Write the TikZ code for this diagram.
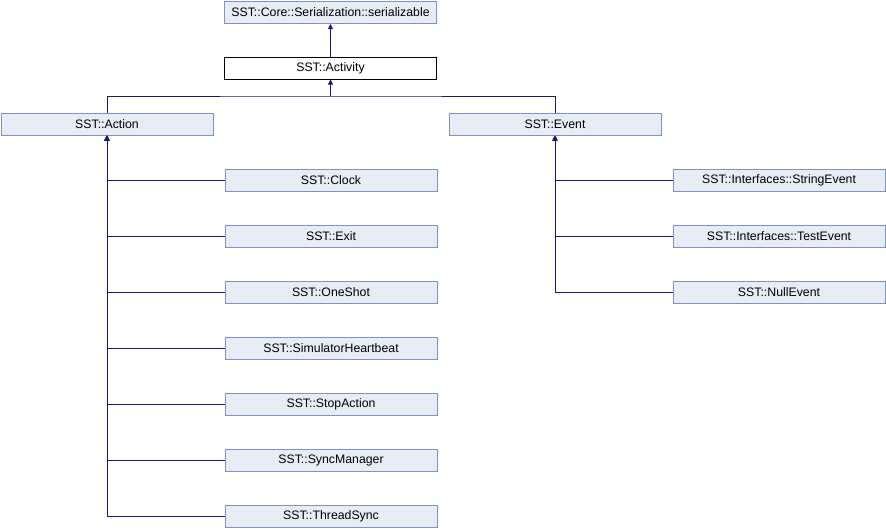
\documentclass[tikz,border=0pt]{standalone}
\usepackage{fontspec}
\setmainfont{Liberation Sans}
\usetikzlibrary{arrows.meta}
\definecolor{boxfill}{HTML}{E8ECF5}
\definecolor{boxline}{HTML}{7B93C9}
\definecolor{edgecol}{HTML}{191970}
\begin{document}
\begin{tikzpicture}[x=1pt,y=-1pt,
  cls/.style={draw=boxline,fill=boxfill,line width=1pt,minimum width=212pt,minimum height=22pt,inner sep=0pt,font=\fontsize{12.3}{14}\selectfont},
  cur/.style={cls,draw=black,fill=white},
  edge/.style={draw=edgecol,line width=1pt},
  inh/.style={edge,-{Triangle[width=5pt,length=5pt]}}]
\useasboundingbox (0,0) rectangle (886,528);
\node[cls] (ser) at (330.5,12.5) {SST::Core::Serialization::serializable};
\node[cur] (act) at (330.5,68) {SST::Activity};
\node[cls] (action) at (107,124) {SST::Action};
\node[cls] (event) at (555,124) {SST::Event};
\node[cls] (clock) at (331,180) {SST::Clock};
\node[cls] (exit) at (331,236) {SST::Exit};
\node[cls] (oneshot) at (331,292) {SST::OneShot};
\node[cls] (simhb) at (331,348) {SST::SimulatorHeartbeat};
\node[cls] (stop) at (331,404) {SST::StopAction};
\node[cls] (syncm) at (331,460) {SST::SyncManager};
\node[cls] (thread) at (331,516) {SST::ThreadSync};
\node[cls] (strev) at (779,180) {SST::Interfaces::StringEvent};
\node[cls] (testev) at (779,236) {SST::Interfaces::TestEvent};
\node[cls] (nullev) at (779,292) {SST::NullEvent};
\coordinate (bar) at (330.5,96);
\draw[inh] (act.north) -- (ser.south);
\draw[edge] (action.north) |- (bar) -| (event.north);
\draw[inh] (bar) -- (act.south);
\foreach \c in {clock,exit,oneshot,simhb,stop,syncm,thread}
  \draw[inh] (\c.west) -| (action.south);
\foreach \c in {strev,testev,nullev}
  \draw[inh] (\c.west) -| (event.south);
\end{tikzpicture}
\end{document}
